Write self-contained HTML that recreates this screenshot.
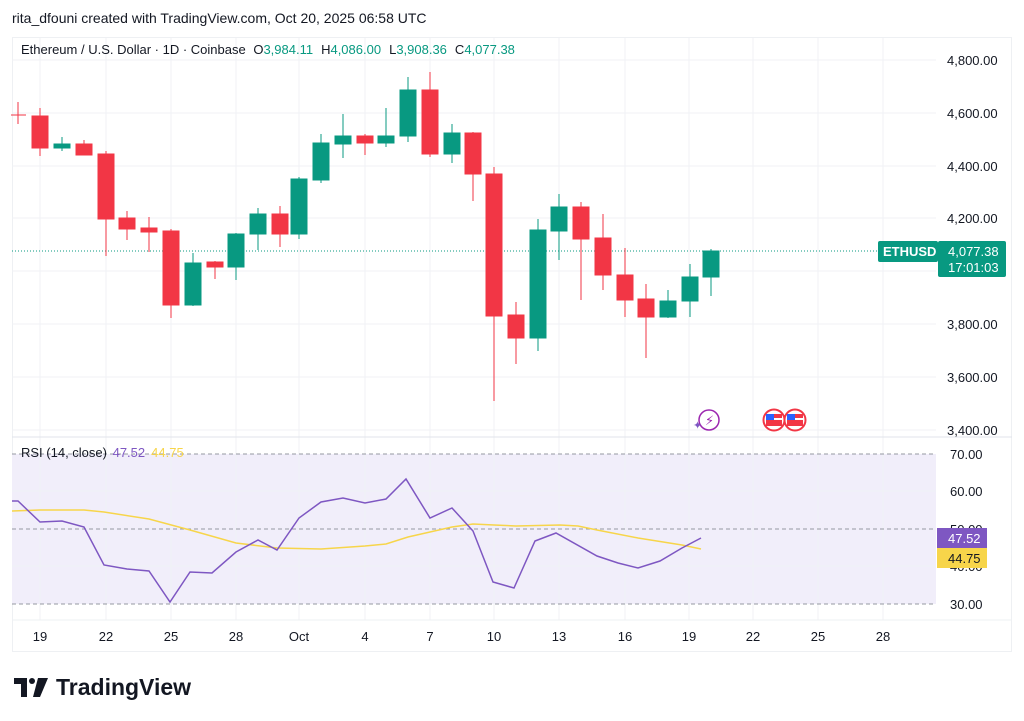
<!DOCTYPE html>
<html><head><meta charset="utf-8"><style>
body{margin:0;background:#fff;width:1024px;height:721px;overflow:hidden}
svg{display:block;font-family:"Liberation Sans","DejaVu Sans",sans-serif}
</style></head><body>
<svg width="1024" height="721" viewBox="0 0 1024 721">
<rect width="1024" height="721" fill="#fff"/>
<text x="12" y="23" font-size="14" fill="#131722">rita_dfouni created with TradingView.com, Oct 20, 2025 06:58 UTC</text>
<rect x="12.5" y="37.5" width="999" height="614" fill="none" stroke="#eef0f3"/>
<!-- RSI bg -->
<rect x="12" y="454" width="924" height="150" fill="#f1eefa"/>
<!-- vertical grid -->
<g stroke="#f0f2f5" stroke-width="1">
<line x1="40" y1="38" x2="40" y2="620"/><line x1="106" y1="38" x2="106" y2="620"/><line x1="171" y1="38" x2="171" y2="620"/><line x1="236" y1="38" x2="236" y2="620"/><line x1="299" y1="38" x2="299" y2="620"/><line x1="365" y1="38" x2="365" y2="620"/><line x1="430" y1="38" x2="430" y2="620"/><line x1="494" y1="38" x2="494" y2="620"/><line x1="559" y1="38" x2="559" y2="620"/><line x1="625" y1="38" x2="625" y2="620"/><line x1="689" y1="38" x2="689" y2="620"/><line x1="753" y1="38" x2="753" y2="620"/><line x1="818" y1="38" x2="818" y2="620"/><line x1="883" y1="38" x2="883" y2="620"/>
<line x1="12" y1="60" x2="936" y2="60"/><line x1="12" y1="113" x2="936" y2="113"/><line x1="12" y1="166" x2="936" y2="166"/><line x1="12" y1="218" x2="936" y2="218"/><line x1="12" y1="271" x2="936" y2="271"/><line x1="12" y1="324" x2="936" y2="324"/><line x1="12" y1="377" x2="936" y2="377"/><line x1="12" y1="430" x2="936" y2="430"/>
<line x1="12" y1="491" x2="936" y2="491"/><line x1="12" y1="566" x2="936" y2="566"/>
</g>
<line x1="12" y1="437" x2="1012" y2="437" stroke="#e0e3eb"/>
<line x1="12" y1="620" x2="1012" y2="620" stroke="#eef0f3"/>
<g stroke="#9598a1" stroke-dasharray="4,3" stroke-width="1">
<line x1="12" y1="454" x2="936" y2="454"/><line x1="12" y1="529" x2="936" y2="529"/><line x1="12" y1="604" x2="936" y2="604"/>
</g>
<line x1="12" y1="251" x2="880" y2="251" stroke="#089981" stroke-dasharray="1,2" stroke-width="1"/>
<!-- candles -->
<g stroke-width="1">
<g stroke="#f23645" fill="#f23645">
<line x1="18" y1="102" x2="18" y2="124"/><line x1="11" y1="115" x2="26" y2="115"/>
<line x1="40" y1="108" x2="40" y2="156"/><rect x="32" y="116" width="16" height="32"/>
<line x1="84" y1="140" x2="84" y2="155"/><rect x="76" y="144" width="16" height="11"/>
<line x1="106" y1="151" x2="106" y2="256"/><rect x="98" y="154" width="16" height="65"/>
<line x1="127" y1="211" x2="127" y2="240"/><rect x="119" y="218" width="16" height="11"/>
<line x1="149" y1="217" x2="149" y2="252"/><rect x="141" y="228" width="16" height="4"/>
<line x1="171" y1="229" x2="171" y2="318"/><rect x="163" y="231" width="16" height="74"/>
<line x1="215" y1="261" x2="215" y2="279"/><rect x="207" y="262" width="16" height="5"/>
<line x1="280" y1="206" x2="280" y2="247"/><rect x="272" y="214" width="16" height="20"/>
<line x1="365" y1="134" x2="365" y2="155"/><rect x="357" y="136" width="16" height="7"/>
<line x1="430" y1="72" x2="430" y2="157"/><rect x="422" y="90" width="16" height="64"/>
<line x1="473" y1="132" x2="473" y2="201"/><rect x="465" y="133" width="16" height="41"/>
<line x1="494" y1="167" x2="494" y2="401"/><rect x="486" y="174" width="16" height="142"/>
<line x1="516" y1="302" x2="516" y2="364"/><rect x="508" y="315" width="16" height="23"/>
<line x1="581" y1="202" x2="581" y2="300"/><rect x="573" y="207" width="16" height="32"/>
<line x1="603" y1="214" x2="603" y2="290"/><rect x="595" y="238" width="16" height="37"/>
<line x1="625" y1="248" x2="625" y2="317"/><rect x="617" y="275" width="16" height="25"/>
<line x1="646" y1="284" x2="646" y2="358"/><rect x="638" y="299" width="16" height="18"/>
</g>
<g stroke="#089981" fill="#089981">
<line x1="62" y1="137" x2="62" y2="151"/><rect x="54" y="144" width="16" height="4"/>
<line x1="193" y1="253" x2="193" y2="306"/><rect x="185" y="263" width="16" height="42"/>
<line x1="236" y1="233" x2="236" y2="280"/><rect x="228" y="234" width="16" height="33"/>
<line x1="258" y1="208" x2="258" y2="250"/><rect x="250" y="214" width="16" height="20"/>
<line x1="299" y1="177" x2="299" y2="239"/><rect x="291" y="179" width="16" height="55"/>
<line x1="321" y1="134" x2="321" y2="183"/><rect x="313" y="143" width="16" height="37"/>
<line x1="343" y1="114" x2="343" y2="158"/><rect x="335" y="136" width="16" height="8"/>
<line x1="386" y1="108" x2="386" y2="147"/><rect x="378" y="136" width="16" height="7"/>
<line x1="408" y1="77" x2="408" y2="142"/><rect x="400" y="90" width="16" height="46"/>
<line x1="452" y1="124" x2="452" y2="163"/><rect x="444" y="133" width="16" height="21"/>
<line x1="538" y1="219" x2="538" y2="351"/><rect x="530" y="230" width="16" height="108"/>
<line x1="559" y1="194" x2="559" y2="260"/><rect x="551" y="207" width="16" height="24"/>
<line x1="668" y1="290" x2="668" y2="318"/><rect x="660" y="301" width="16" height="16"/>
<line x1="690" y1="264" x2="690" y2="317"/><rect x="682" y="277" width="16" height="24"/>
<line x1="711" y1="249" x2="711" y2="296"/><rect x="703" y="251" width="16" height="26"/>
</g>
</g>
<!-- RSI lines -->
<polyline fill="none" stroke="#f7d54a" stroke-width="1.5" points="12,511 40,510 84,510 104,512 149,519 190,530 236,543 277,548 321,549 365,546 386,544 408,537 430,532 452,527 473,524 494,525 516,526 560,525 578,526 597,530 638,538 682,545 701,549"/>
<polyline fill="none" stroke="#7e57c2" stroke-width="1.5" points="12,501 18,501 40,522 62,521 84,527 104,565 127,569 149,571 170,602 190,572 212,573 236,552 258,540 277,550 299,518 321,502 343,498 365,503 386,499 406,479 430,518 452,508 473,531 493,582 514,588 535,541 556,533 597,556 618,563 638,568 660,561 682,548 701,538"/>
<!-- legend -->
<text x="21" y="54" font-size="13" fill="#131722">Ethereum / U.S. Dollar · 1D · Coinbase <tspan dx="4">O</tspan><tspan fill="#089981">3,984.11</tspan><tspan dx="8">H</tspan><tspan fill="#089981">4,086.00</tspan><tspan dx="8">L</tspan><tspan fill="#089981">3,908.36</tspan><tspan dx="8">C</tspan><tspan fill="#089981">4,077.38</tspan></text>
<text x="21" y="457" font-size="13" fill="#131722">RSI (14, close) <tspan fill="#7e57c2" dx="2">47.52</tspan><tspan fill="#f7d54a" dx="6">44.75</tspan></text>
<!-- icons -->
<circle cx="709" cy="420" r="10" fill="#fff" stroke="#9c27b0" stroke-width="1.5"/>
<text x="705" y="425" font-size="13" fill="#9c27b0">⚡</text>
<text x="693" y="429" font-size="11" fill="#7e57c2">✦</text>
<circle cx="774" cy="420" r="10.5" fill="#fff" stroke="#f23645" stroke-width="2"/>
<rect x="766" y="414" width="16" height="12" fill="#f23645"/><rect x="766" y="418" width="16" height="2" fill="#fff"/><rect x="766" y="414" width="8" height="6" fill="#2962ff"/>
<circle cx="795" cy="420" r="10.5" fill="#fff" stroke="#f23645" stroke-width="2"/>
<rect x="787" y="414" width="16" height="12" fill="#f23645"/><rect x="787" y="418" width="16" height="2" fill="#fff"/><rect x="787" y="414" width="8" height="6" fill="#2962ff"/>
<!-- price axis -->
<g font-size="13" fill="#131722">
<text x="947" y="65">4,800.00</text><text x="947" y="118">4,600.00</text><text x="947" y="171">4,400.00</text><text x="947" y="223">4,200.00</text><text x="947" y="329">3,800.00</text><text x="947" y="382">3,600.00</text><text x="947" y="435">3,400.00</text>
<text x="950" y="459">70.00</text><text x="950" y="496">60.00</text><text x="950" y="534">50.00</text><text x="950" y="571">40.00</text><text x="950" y="609">30.00</text>
</g>
<rect x="878" y="241" width="60" height="21" rx="2" fill="#089981"/>
<text x="883" y="256" font-size="13" fill="#fff" font-weight="bold">ETHUSD</text>
<rect x="938" y="241" width="68" height="36" rx="2" fill="#089981"/>
<text x="948" y="256" font-size="13" fill="#fff">4,077.38</text>
<text x="948" y="272" font-size="13" fill="#fff">17:01:03</text>
<rect x="937" y="528" width="50" height="20" fill="#7e57c2"/>
<text x="948" y="543" font-size="13" fill="#fff">47.52</text>
<rect x="937" y="548" width="50" height="20" fill="#f7d54a"/>
<text x="948" y="563" font-size="13" fill="#131722">44.75</text>
<!-- time axis -->
<g font-size="13" fill="#131722" text-anchor="middle">
<text x="40" y="641">19</text><text x="106" y="641">22</text><text x="171" y="641">25</text><text x="236" y="641">28</text><text x="299" y="641">Oct</text><text x="365" y="641">4</text><text x="430" y="641">7</text><text x="494" y="641">10</text><text x="559" y="641">13</text><text x="625" y="641">16</text><text x="689" y="641">19</text><text x="753" y="641">22</text><text x="818" y="641">25</text><text x="883" y="641">28</text>
</g>
<!-- logo -->
<g fill="#131722">
<path d="M14 678 H27 V697 H21 V684 H14 Z"/>
<circle cx="32" cy="681" r="3"/>
<path d="M38 678 H48 L40 697 H33 Z"/>
</g>
<text x="56" y="695" font-size="23" font-weight="bold" fill="#131722">TradingView</text>
</svg>
</body></html>
